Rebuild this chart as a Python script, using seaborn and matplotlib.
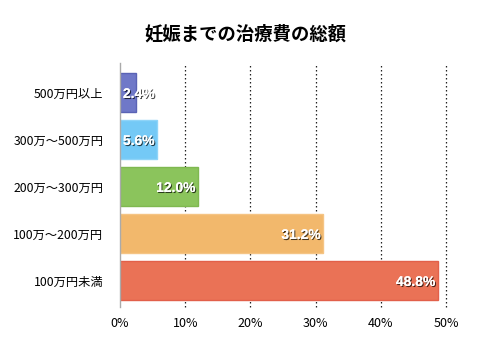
import matplotlib
matplotlib.use("Agg")
import matplotlib.pyplot as plt
import matplotlib.patheffects as pe
import seaborn as sns
import pandas as pd

categories = ["500万円以上", "300万〜500万円", "200万〜300万円", "100万〜200万円", "100万円未満"]
values = [2.4, 5.6, 12.0, 31.2, 48.8]
colors = ["#6f78c8", "#74c9f6", "#8bc45c", "#f2b86c", "#ea7256"]
edges = ["#5a63b5", "#8fd4f8", "#7fb850", "#f5c484", "#e2604a"]
xticks = [0, 10, 20, 30, 40, 50]
xticklabels = ["0%", "10%", "20%", "30%", "40%", "50%"]
title = "妊娠までの治療費の総額"

sns.set_style("white")
plt.rcParams['font.family'] = ['Noto Sans CJK JP', 'DejaVu Sans']

fig = plt.figure(figsize=(4.8, 3.37), dpi=100)
ax = fig.add_axes([120/480, 1-307/337, (446-120)/480, (307-63)/337])

df = pd.DataFrame({"cat": categories, "val": values})
sns.barplot(data=df, y="cat", x="val", hue="cat", palette=colors, orient="h",
            width=0.81, legend=False, ax=ax, saturation=1)
for p, ec in zip(ax.patches, edges):
    p.set_edgecolor(ec)
    p.set_linewidth(1.0)

ax.set_xlim(0, 50)
ax.set_ylim(4.564, -0.628)
ax.set_xticks(xticks)
ax.set_xticklabels(xticklabels, fontsize=9, color="black")
for t in ax.get_yticklabels():
    t.set_color("black")
ax.set_xlabel("")
ax.set_ylabel("")
ax.tick_params(axis="y", length=0, pad=12, labelsize=8.8)
ax.tick_params(axis="x", length=0, pad=7)
for x in xticks[1:]:
    ax.axvline(x, color="#222222", linestyle=(0, (1.2, 2)), linewidth=0.9, zorder=0, clip_on=False)
for s in ["top", "right", "bottom"]:
    ax.spines[s].set_visible(False)
ax.spines["left"].set_color("#aaaaaa")
ax.spines["left"].set_linewidth(1.0)

effects = [pe.withSimplePatchShadow(offset=(0.8, -0.8), shadow_rgbFace="black", alpha=0.7), pe.Normal()]
for i, v in enumerate(values):
    if v < 8:
        ax.text(0.45, i + 0.03, f"{v:.1f}%", ha="left", va="center", color="white",
                fontsize=10, fontweight="bold", path_effects=effects, family="Liberation Sans")
    else:
        ax.text(v - 0.4, i + 0.03, f"{v:.1f}%", ha="right", va="center", color="white",
                fontsize=10, fontweight="bold", path_effects=effects, family="Liberation Sans")

fig.text(245/480, 1-34/337, title, ha="center", va="center", fontsize=13.2,
         fontweight="bold", color="black")

fig.savefig("out.png", dpi=100)
